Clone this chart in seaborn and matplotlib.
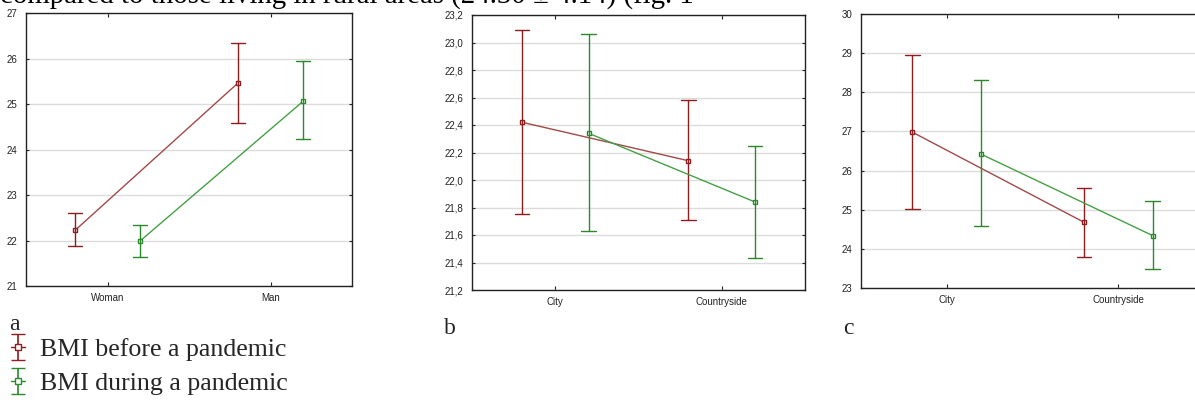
import numpy as np
import pandas as pd
import matplotlib
matplotlib.use("Agg")
import matplotlib.pyplot as plt
from matplotlib.lines import Line2D
from matplotlib.collections import LineCollection
from matplotlib.container import ErrorbarContainer
from matplotlib.ticker import FuncFormatter
import seaborn as sns

sns.set_style("white")
plt.rcParams["font.family"] = ["Liberation Sans", "DejaVu Sans"]

series = ["BMI before a pandemic", "BMI during a pandemic"]

# Panel a: sex
cats_a = ["Woman", "Man"]
mean_a_before = [22.22, 25.46]
lo_a_before = [21.87, 24.58]
hi_a_before = [22.60, 26.35]
mean_a_during = [21.99, 25.06]
lo_a_during = [21.64, 24.22]
hi_a_during = [22.35, 25.95]

# Panel b: place of residence
cats_b = ["City", "Countryside"]
mean_b_before = [22.42, 22.14]
lo_b_before = [21.75, 21.71]
hi_b_before = [23.09, 22.58]
mean_b_during = [22.34, 21.84]
lo_b_during = [21.63, 21.43]
hi_b_during = [23.06, 22.25]

# Panel c: place of residence
cats_c = ["City", "Countryside"]
mean_c_before = [26.98, 24.68]
lo_c_before = [25.03, 23.80]
hi_c_before = [28.95, 25.56]
mean_c_during = [26.42, 24.34]
lo_c_during = [24.58, 23.48]
hi_c_during = [28.31, 25.22]

ylims = {"a": (21, 27), "b": (21.2, 23.2), "c": (23, 30)}
yticks = {"a": [21, 22, 23, 24, 25, 26, 27],
          "b": [21.2, 21.4, 21.6, 21.8, 22.0, 22.2, 22.4, 22.6, 22.8, 23.0, 23.2],
          "c": [23, 24, 25, 26, 27, 28, 29, 30]}

err_colors = {series[0]: "#8e1d1d", series[1]: "#2b8a2b"}
line_colors = {series[0]: "#a14a48", series[1]: "#45a045"}


def build(cats, mb, lb, hb, md, ld, hd):
    rows = []
    for s, m, l, h in [(series[0], mb, lb, hb), (series[1], md, ld, hd)]:
        for c, mi, li, hi in zip(cats, m, l, h):
            for v in (li, mi, hi):
                rows.append({"Category": c, "Period": s, "BMI": v})
    return pd.DataFrame(rows)


data = {
    "a": (cats_a, build(cats_a, mean_a_before, lo_a_before, hi_a_before,
                        mean_a_during, lo_a_during, hi_a_during)),
    "b": (cats_b, build(cats_b, mean_b_before, lo_b_before, hi_b_before,
                        mean_b_during, lo_b_during, hi_b_during)),
    "c": (cats_c, build(cats_c, mean_c_before, lo_c_before, hi_c_before,
                        mean_c_during, lo_c_during, hi_c_during)),
}

W, H = 1195, 403
fig = plt.figure(figsize=(W / 100, H / 100), dpi=100)
fig.patch.set_facecolor("white")

pos = {"a": (26, 13, 352, 286), "b": (472, 15, 805, 290), "c": (861, 14, 1204, 288)}

for key in ["a", "b", "c"]:
    x0, y0, x1, y1 = pos[key]
    ax = fig.add_axes([x0 / W, 1 - y1 / H, (x1 - x0) / W, (y1 - y0) / H])
    cats, df = data[key]
    ax.set_ylim(*ylims[key])
    ax.set_yticks(yticks[key])
    ax.yaxis.grid(True, color="#dcdcdc", linewidth=1.0)
    ax.set_axisbelow(True)
    for s in series:
        sub = df[df["Period"] == s]
        sns.pointplot(data=sub, x="Category", y="BMI", hue="Period",
                      hue_order=series, order=cats, ax=ax,
                      palette={series[0]: line_colors[series[0]], series[1]: line_colors[series[1]]},
                      estimator=np.median, errorbar=lambda v: (v.min(), v.max()),
                      dodge=0.4, markers="s", markersize=3.5, linewidth=1.0,
                      capsize=0.085, markerfacecolor="white",
                      markeredgecolor=err_colors[s], markeredgewidth=1.0,
                      err_kws={"color": err_colors[s], "linewidth": 1.0},
                      legend=False)
    ax.set_xlim(-0.5, 1.5)
    ax.set_ylim(*ylims[key])
    ax.set_xlabel("")
    ax.set_ylabel("")
    for sp in ax.spines.values():
        sp.set_color("#222222")
        sp.set_linewidth(1.0)
    ax.tick_params(axis="x", direction="in", length=3, top=True, bottom=True,
                   labelsize=7, colors="#222222", pad=5)
    ax.tick_params(axis="y", direction="in", length=2, left=True, right=True,
                   labelsize=7, colors="#222222", pad=6)
    if key == "b":
        ax.yaxis.set_major_formatter(FuncFormatter(lambda v, p: f"{v:.1f}".replace(".", ",")))
    else:
        ax.yaxis.set_major_formatter(FuncFormatter(lambda v, p: f"{v:.0f}"))

serif = ["Liberation Serif", "DejaVu Serif"]
fig.text(0 / W, 1 - 4 / H, "compared to those living in rural areas (24.30 \u00b1 4.14) (fig. 1",
         family=serif, fontsize=20.8, va="baseline", ha="left", color="black")
for lab, x, yb in [("a", 9, 330), ("b", 444, 334), ("c", 843, 334)]:
    fig.text(x / W, 1 - yb / H, lab, family=serif, fontsize=17, va="baseline", ha="left")

handles = []
for s in series:
    dl = Line2D([], [], color=err_colors[s], marker="s", markersize=4.5,
                markerfacecolor="white", linestyle="-", linewidth=1.0)
    caps = (Line2D([], [], color=err_colors[s], marker="_", markersize=10, linestyle="none"),
            Line2D([], [], color=err_colors[s], marker="_", markersize=10, linestyle="none"))
    bars = (LineCollection([], colors=err_colors[s], linewidths=1.2),)
    handles.append(ErrorbarContainer((dl, caps, bars), has_xerr=False, has_yerr=True))

fig.legend(handles, series, loc="upper left", bbox_to_anchor=(6 / W, 1 - 333 / H),
           frameon=False, prop={"family": "Liberation Serif", "size": 18.6},
           handlelength=0.55, handletextpad=0.55, labelspacing=0.4, borderaxespad=0,
           borderpad=0.2)

fig.savefig("out.png", dpi=100, facecolor="white")
